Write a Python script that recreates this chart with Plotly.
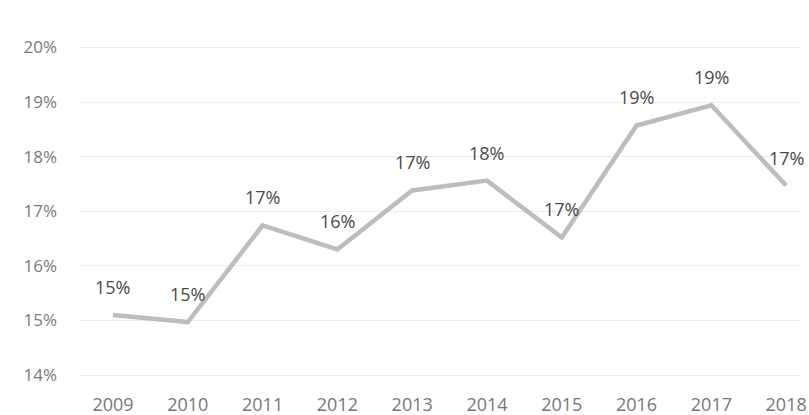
import plotly.graph_objects as go

years = [2009, 2010, 2011, 2012, 2013, 2014, 2015, 2016, 2017, 2018]
share = [15.10, 14.97, 16.74, 16.30, 17.38, 17.56, 16.52, 18.57, 18.94, 17.47]
labels = ["15%", "15%", "17%", "16%", "17%", "18%", "17%", "19%", "19%", "17%"]
y_ticks = [14, 15, 16, 17, 18, 19, 20]
y_tick_text = ["14%", "15%", "16%", "17%", "18%", "19%", "20%"]

FONT = "Open Sans"

fig = go.Figure()
fig.add_trace(go.Scatter(
    x=years, y=share, mode="lines",
    line=dict(color="#bdbdbd", width=4.5),
    hoverinfo="skip", showlegend=False,
))
for x, y, t in zip(years, share, labels):
    fig.add_annotation(x=x, y=y, text=t, showarrow=False, yshift=28,
                       font=dict(family=FONT, size=18, color="#4a4a4a"))

fig.update_layout(
    width=809, height=415,
    margin=dict(l=80, r=9, t=31, b=23, autoexpand=False),
    paper_bgcolor="white", plot_bgcolor="white",
    font=dict(family=FONT, size=17, color="#7a7a7a"),
    xaxis=dict(range=[2008.559, 2018.185], tickvals=years,
               ticktext=[str(v) for v in years], showgrid=False,
               zeroline=False, showline=False, automargin=False,
               tickfont=dict(family=FONT, size=18, color="#777777")),
    yaxis=dict(range=[13.69, 20.3], tickvals=y_ticks, ticktext=y_tick_text,
               showgrid=True, gridcolor="#ececec", gridwidth=1,
               zeroline=False, showline=False, ticklabelstandoff=22,
               automargin=False,
               tickfont=dict(family=FONT, size=17, color="#7a7a7a")),
)
fig.write_html("out.html")
